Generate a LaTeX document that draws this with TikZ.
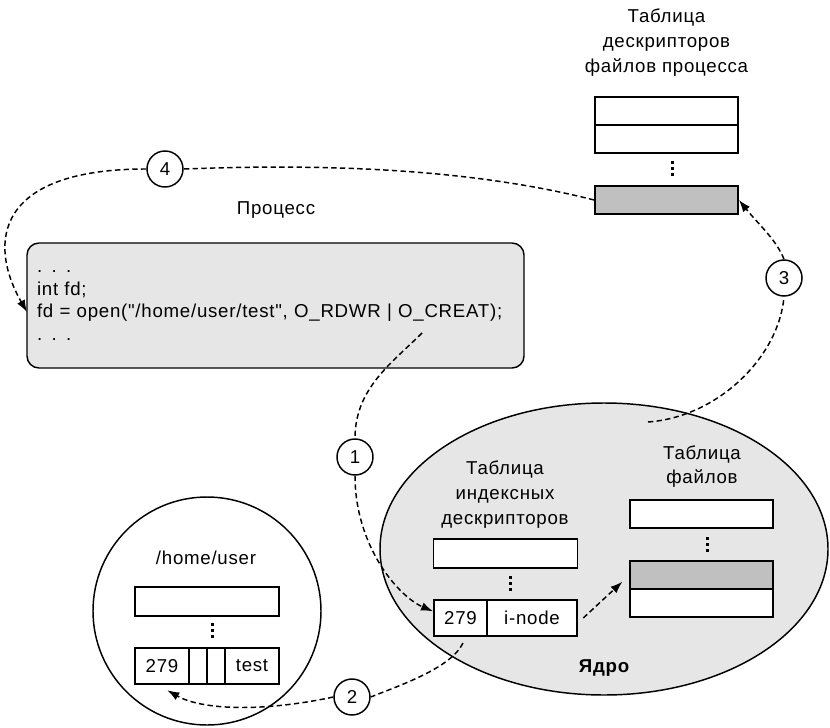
\documentclass[tikz,border=0pt]{standalone}
\usepackage{fontspec}
\setmainfont{Liberation Sans}[LetterSpace=4, Ligatures=TeXOff]
\usetikzlibrary{shapes.geometric,arrows.meta}
\definecolor{boxgray}{RGB}{230,230,230}
\definecolor{cellgray}{RGB}{192,192,192}

\tikzset{
  cell/.style={draw, fill=white, line width=1.4pt, inner sep=0pt, minimum width=107.25pt, minimum height=21pt},
  stepnum/.style={draw, circle, fill=white, line width=1.1pt, minimum size=27pt, inner sep=0pt},
  flow/.style={line width=1.1pt, dash pattern=on 4pt off 2.5pt},
  flowarrow/.style={flow, -{Latex[length=9pt,width=6.5pt]}},
  title/.style={align=center}
}

\begin{document}
\begin{tikzpicture}[x=0.75pt,y=-0.75pt,font=\fontsize{14}{18.5}\selectfont]
\useasboundingbox (0,0) rectangle (830,727);

% Kernel and directory
\node[ellipse, draw, fill=boxgray, line width=1.1pt, minimum width=336pt, minimum height=219pt, inner sep=0pt] (kernel) at (604,549) {};
\node[font=\fontsize{14}{18.5}\selectfont\bfseries] (kname) at (604,668) {Ядро};
\node[circle, draw, line width=1.1pt, minimum size=171pt, inner sep=0pt] (dir) at (207,611) {};
\node (dirname) at (206,558) {/home/user};

% Process
\node (procname) at (276,210) {Процесс};
\node[draw, rounded corners=9pt, fill=boxgray, line width=1.1pt, minimum width=372.75pt, minimum height=93.75pt,
      text width=357.75pt, inner xsep=7.5pt, align=left, font=\fontsize{14}{17}\selectfont] (proc) at (275.5,305.5)
  {. . .\\int fd;\\fd = open("/home/user/test", O\_RDWR | O\_CREAT);\\. . .};

% Process file descriptor table
\node[title] (fdname) at (666.5,42.5) {Таблица\\дескрипторов\\файлов процесса};
\node[cell] (fd1) at (666.5,111) {};
\node[cell] (fd2) at (666.5,139) {};
\node[cell, fill=cellgray] (fd3) at (666.5,200) {};

% Inode table
\node[title] (itname) at (505,494.5) {Таблица\\индексных\\дескрипторов};
\node[cell, minimum width=108pt, minimum height=21.75pt] (it1) at (505.5,553.5) {};
\node[cell, minimum width=39.75pt, minimum height=27pt] (i279) at (460.5,618) {279};
\node[cell, minimum width=67.5pt, minimum height=27pt] (inode) at (532,618) {i-node};

% File table
\node[title] (ftname) at (702,466.5) {Таблица\\файлов};
\node[cell] (ft1) at (701.5,514) {};
\node[cell, fill=cellgray] (ft2) at (701.5,575) {};
\node[cell] (ft3) at (701.5,603) {};

% Directory entries
\node[cell, minimum width=108pt, minimum height=21.75pt] (dr1) at (207,601.5) {};
\node[cell, minimum width=40.5pt, minimum height=27pt] (d279) at (162,666) {279};
\node[cell, minimum width=13.5pt, minimum height=27pt] (dx1) at (198,666) {};
\node[cell, minimum width=13.5pt, minimum height=27pt] (dx2) at (216,666) {};
\node[cell, minimum width=40.5pt, minimum height=27pt] (dtest) at (252,666) {test};

% Vertical dots
\foreach \px/\py in {672/169, 510/583, 707/544, 212/630}
  \foreach \k in {-1,0,1}
    \fill (\px-1.5,\py+6*\k-1.5) rectangle +(3,3);

% Steps
\node[stepnum] (s1) at (355,457) {1};
\node[stepnum] (s2) at (352,697) {2};
\node[stepnum] (s3) at (784,278) {3};
\node[stepnum] (s4) at (165,169) {4};

\coordinate (c1) at (422,333);
\coordinate (c2) at (463,643);
\coordinate (c3) at (648,422);
\coordinate (c4) at (27,312);

% Connectors
\draw[flow] (c1) .. controls +(-30,30) and +(0,-50) .. (s1.north);
\draw[flowarrow] (s1.south) .. controls +(0,70) and +(-35,-15) .. ([yshift=5pt]i279.west);
\draw[flow] (c2) .. controls +(-12,25) and +(30,-12) .. (s2.east);
\draw[flowarrow] (s2.west) .. controls +(-70,15) and +(35,20) .. ([xshift=4pt,yshift=-4pt]d279.south);
\draw[flow] (c3) .. controls +(70,-5) and +(-5,60) .. (s3.south);
\draw[flowarrow] (s3.north) .. controls +(-8,-20) and +(20,25) .. (fd3.east);
\draw[flow] (fd3.west) .. controls +(-130,-33) and +(130,-5) .. (s4.east);
\draw[flowarrow] (s4.west) .. controls +(-150,0) and +(-40,-70) .. (c4);
\draw[flowarrow] ([xshift=4pt]inode.east) -- ([xshift=-5pt,yshift=-5pt]ft2.west);

\end{tikzpicture}
\end{document}
